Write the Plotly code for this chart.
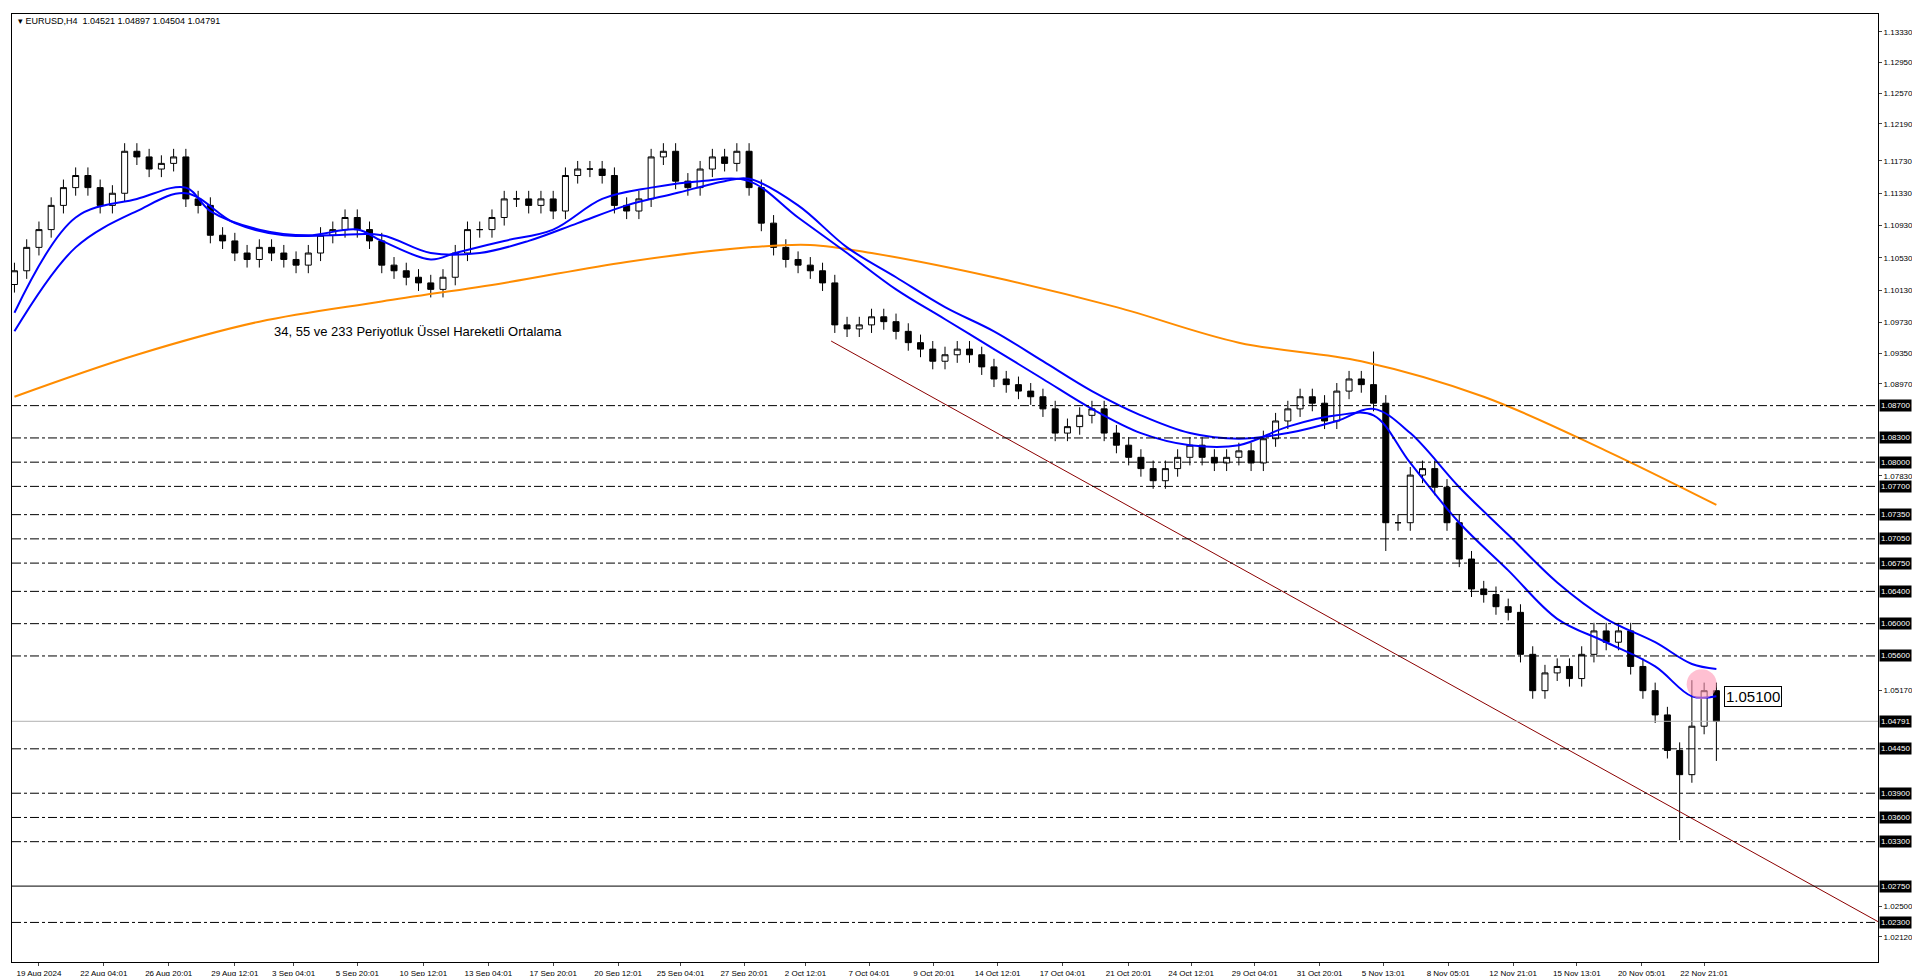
import plotly.graph_objects as go

# closing prices, one candle per ~3 H4 bars
closes = [1.1037, 1.1066, 1.1088, 1.1118, 1.1140, 1.1155, 1.1140, 1.1118, 1.1133, 1.1185,
          1.1178, 1.1163, 1.1170, 1.1178, 1.1126, 1.1118, 1.1081, 1.1074, 1.1059, 1.1051,
          1.1066, 1.1059, 1.1051, 1.1044, 1.1059, 1.1081, 1.1088, 1.1103, 1.1088, 1.1074,
          1.1044, 1.1037, 1.1029, 1.1022, 1.1014, 1.1029, 1.1059, 1.1088, 1.1088, 1.1103,
          1.1126, 1.1126, 1.1118, 1.1126, 1.1111, 1.1155, 1.1163, 1.1163, 1.1155, 1.1118,
          1.1111, 1.1126, 1.1178, 1.1185, 1.1148, 1.1140, 1.1163, 1.1178, 1.1170, 1.1185,
          1.1140, 1.1096, 1.1066, 1.1051, 1.1044, 1.1037, 1.1022, 1.0970, 1.0965, 1.0970,
          1.0980, 1.0974, 1.0962, 1.0948, 1.0940, 1.0925, 1.0933, 1.0940, 1.0933, 1.0918,
          1.0903, 1.0896, 1.0888, 1.0881, 1.0866, 1.0836, 1.0844, 1.0858, 1.0866, 1.0836,
          1.0821, 1.0806, 1.0792, 1.0777, 1.0792, 1.0806, 1.0821, 1.0806, 1.0799, 1.0806,
          1.0814, 1.0799, 1.0829, 1.0851, 1.0866, 1.0881, 1.0873, 1.0851, 1.0888, 1.0903,
          1.0896, 1.0873, 1.0725, 1.0725, 1.0784, 1.0792, 1.0769, 1.0725, 1.0680, 1.0643,
          1.0636, 1.0621, 1.0614, 1.0562, 1.0517, 1.0539, 1.0547, 1.0532, 1.0562, 1.0591,
          1.0577, 1.0591, 1.0547, 1.0517, 1.0487, 1.0443, 1.0413, 1.0473, 1.0517, 1.0479]
first_open = 1.1020
wick = 0.0010
special_highs = {111: 1.0937, 137: 1.0530}
special_lows = {112: 1.0690, 136: 1.0332, 139: 1.0430}

# moving averages sampled at candle index
ema_x = [0, 5, 10, 14, 16, 20, 24, 28, 30, 34, 36, 40, 44, 48, 52, 56, 60, 64, 68, 72, 76, 80,
         84, 88, 92, 96, 100, 104, 108, 111, 114, 118, 122, 126, 130, 134, 137, 139]
ema34 = [1.0985, 1.1103, 1.1126, 1.1140, 1.1111, 1.1088, 1.1081, 1.1088, 1.1074, 1.1051, 1.1059,
         1.1074, 1.1088, 1.1126, 1.1140, 1.1148, 1.1148, 1.1103, 1.1059, 1.1014, 1.0977, 1.0940,
         1.0903, 1.0866, 1.0836, 1.0821, 1.0821, 1.0844, 1.0858, 1.0858, 1.0799, 1.0725, 1.0666,
         1.0606, 1.0577, 1.0547, 1.0510, 1.0510]
ema55_x = [0, 5, 10, 14, 18, 22, 26, 30, 34, 38, 42, 46, 50, 54, 58, 60, 64, 68, 72, 76, 80, 84,
           88, 92, 96, 100, 104, 108, 111, 114, 118, 122, 126, 130, 134, 137, 139]
ema55 = [1.0962, 1.1066, 1.1111, 1.1133, 1.1096, 1.1081, 1.1081, 1.1081, 1.1059, 1.1059, 1.1074,
         1.1096, 1.1118, 1.1133, 1.1148, 1.1151, 1.1118, 1.1066, 1.1029, 1.0992, 1.0962, 1.0925,
         1.0888, 1.0858, 1.0836, 1.0829, 1.0836, 1.0851, 1.0866, 1.0836, 1.0769, 1.0710, 1.0651,
         1.0606, 1.0577, 1.0550, 1.0544]
ema233_x = [0, 10, 20, 30, 40, 50, 60, 65, 70, 80, 90, 100, 110, 120, 130, 139]
ema233 = [1.0881, 1.0933, 1.0974, 1.0999, 1.1022, 1.1048, 1.1066, 1.1069, 1.1059, 1.1029, 1.0992,
          1.0948, 1.0925, 1.0881, 1.0814, 1.0747]

trend_x = [66.7, 152.2]
trend_y = [1.0950, 1.0231]

levels = [1.0870, 1.0830, 1.0800, 1.0770, 1.0735, 1.0705, 1.0675, 1.0640, 1.0600, 1.0560,
          1.0445, 1.0390, 1.0360, 1.0330, 1.0230]
support = 1.0275
last_price = 1.04791

axis_ticks = [1.0212, 1.0250, 1.0288, 1.0326, 1.0364, 1.0402, 1.0441, 1.0479, 1.0517, 1.0555,
              1.0593, 1.0631, 1.0669, 1.0707, 1.0745, 1.0783, 1.0821, 1.0859, 1.0897, 1.0935,
              1.0973, 1.1013, 1.1053, 1.1093, 1.1133, 1.1173, 1.1219, 1.1257, 1.1295, 1.1333]

date_pos = [2, 7.3, 12.6, 18, 22.8, 28, 33.4, 38.7, 44, 49.3, 54.4, 59.6, 64.6, 69.8, 75.1,
            80.3, 85.6, 91, 96.1, 101.3, 106.6, 111.8, 117.1, 122.4, 127.6, 132.9, 138]
date_labels = ["19 Aug 2024", "22 Aug 04:01", "26 Aug 20:01", "29 Aug 12:01", "3 Sep 04:01",
               "5 Sep 20:01", "10 Sep 12:01", "13 Sep 04:01", "17 Sep 20:01", "20 Sep 12:01",
               "25 Sep 04:01", "27 Sep 20:01", "2 Oct 12:01", "7 Oct 04:01", "9 Oct 20:01",
               "14 Oct 12:01", "17 Oct 04:01", "21 Oct 20:01", "24 Oct 12:01", "29 Oct 04:01",
               "31 Oct 20:01", "5 Nov 13:01", "8 Nov 05:01", "12 Nov 21:01", "15 Nov 13:01",
               "20 Nov 05:01", "22 Nov 21:01"]

opens = [first_open] + closes[:-1]
highs, lows = [], []
for i, (o, c) in enumerate(zip(opens, closes)):
    highs.append(special_highs.get(i, max(o, c) + wick))
    lows.append(special_lows.get(i, min(o, c) - wick))
idx = list(range(len(closes)))

# axis ticks that would sit under a boxed level label are left out
boxed = levels + [support, last_price]
shown_ticks = [t for t in axis_ticks if min(abs(t - b) for b in boxed) > 0.0013]

fig = go.Figure()
for lv in levels:
    fig.add_hline(y=lv, line=dict(color="black", width=1, dash="dashdot"))
fig.add_hline(y=support, line=dict(color="black", width=1))
fig.add_hline(y=last_price, line=dict(color="#b0b0b0", width=1))

fig.add_trace(go.Scatter(x=ema233_x, y=ema233, mode="lines", line=dict(color="#ff8c00", width=2), line_shape="spline"))
fig.add_trace(go.Scatter(x=ema55_x, y=ema55, mode="lines", line=dict(color="#0000ff", width=2), line_shape="spline"))
fig.add_trace(go.Scatter(x=ema_x, y=ema34, mode="lines", line=dict(color="#0000ff", width=2), line_shape="spline"))
fig.add_trace(go.Scatter(x=trend_x, y=trend_y, mode="lines", line=dict(color="#8b0000", width=1)))
fig.add_trace(go.Candlestick(
    x=idx, open=opens, high=highs, low=lows, close=closes,
    increasing=dict(line=dict(color="black", width=1), fillcolor="white"),
    decreasing=dict(line=dict(color="black", width=1), fillcolor="black"),
    whiskerwidth=0))
fig.add_trace(go.Scatter(x=[137.8], y=[1.0525], mode="markers",
                         marker=dict(size=30, color="rgba(255,150,180,0.6)")))

font = dict(family="Liberation Sans, Arial", size=8, color="black")
for lv in boxed:
    fig.add_annotation(x=1.0, xref="paper", y=lv, yref="y", xanchor="left", xshift=1,
                       text=f"{lv:.5f}", showarrow=False, bgcolor="black",
                       font=dict(family="Liberation Sans, Arial", size=8, color="white"), borderpad=1)
fig.add_annotation(x=139.6, y=1.0510, xanchor="left", text="1.05100", showarrow=False,
                   bordercolor="black", borderwidth=1, bgcolor="white",
                   font=dict(family="Liberation Sans, Arial", size=15, color="black"))
fig.add_annotation(x=21, y=1.0962, xanchor="left", text="34, 55 ve 233 Periyotluk Üssel Hareketli Ortalama",
                   showarrow=False, font=dict(family="Liberation Sans, Arial", size=13, color="black"))
fig.add_annotation(x=0.002, xref="paper", y=1.0, yref="paper", xanchor="left", yanchor="top",
                   text="▾ EURUSD,H4  1.04521 1.04897 1.04504 1.04791", showarrow=False,
                   font=dict(family="Liberation Sans, Arial", size=9, color="black"))

fig.update_layout(
    width=1920, height=976, showlegend=False, plot_bgcolor="white", paper_bgcolor="white",
    margin=dict(l=4, r=50, t=6, b=22),
    xaxis=dict(range=[-0.2, 152.2], tickvals=date_pos, ticktext=date_labels, showgrid=False,
               zeroline=False, rangeslider=dict(visible=False), tickfont=font, ticks="outside",
               ticklen=3, tickangle=0, showline=True, linecolor="black", mirror=True),
    yaxis=dict(range=[1.0181, 1.1355], side="right", tickvals=shown_ticks,
               ticktext=[f"{v:.5f}" for v in shown_ticks], showgrid=False, zeroline=False,
               tickfont=font, ticks="outside", ticklen=3, showline=True, linecolor="black", mirror=True),
)
fig.write_html("out.html")
